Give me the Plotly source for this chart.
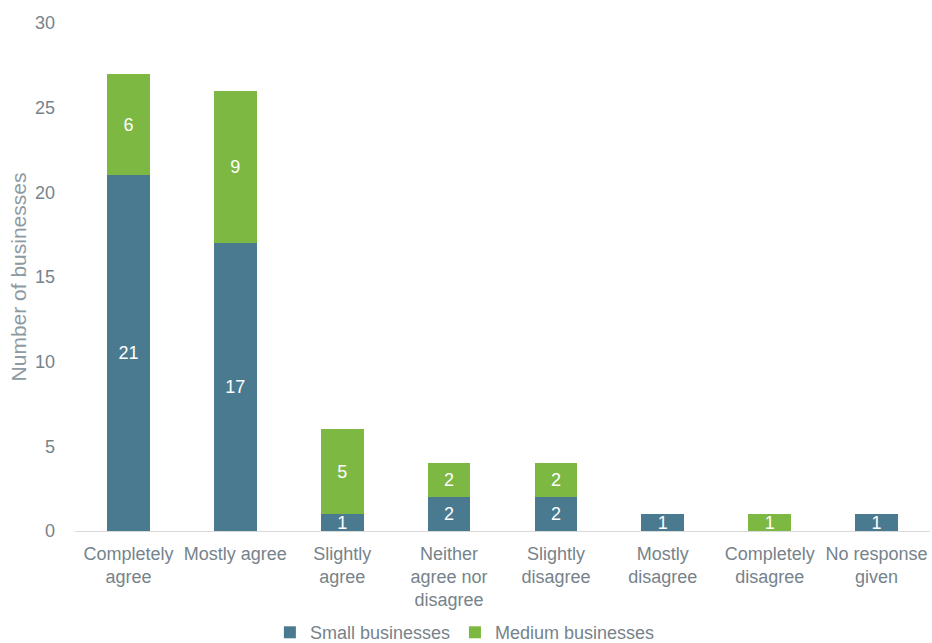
import plotly.graph_objects as go

categories = [
    "Completely<br>agree",
    "Mostly agree",
    "Slightly<br>agree",
    "Neither<br>agree nor<br>disagree",
    "Slightly<br>disagree",
    "Mostly<br>disagree",
    "Completely<br>disagree",
    "No response<br>given",
]
small_businesses = [21, 17, 1, 2, 2, 1, 0, 1]
medium_businesses = [6, 9, 5, 2, 2, 0, 1, 0]

SMALL_COLOR = "#4a7a8f"
MEDIUM_COLOR = "#7db843"
TEXT_COLOR = "#76838b"
TITLE_COLOR = "#8e9aa1"
FONT = "Liberation Sans, Arial, sans-serif"


def labels(values):
    return [str(v) if v else "" for v in values]


fig = go.Figure()
for name, values, color in [
    ("Small businesses", small_businesses, SMALL_COLOR),
    ("Medium businesses", medium_businesses, MEDIUM_COLOR),
]:
    fig.add_trace(go.Bar(
        name=name,
        x=categories,
        y=values,
        marker=dict(color=color, line=dict(width=0)),
        text=labels(values),
        textposition="inside",
        insidetextanchor="middle",
        textangle=0,
        constraintext="none",
        textfont=dict(color="white", size=18, family=FONT),
        hoverinfo="skip",
    ))

fig.update_layout(
    barmode="stack",
    bargap=0.6,
    width=932,
    height=643,
    margin=dict(l=75, r=2, t=23, b=112, autoexpand=False),
    paper_bgcolor="white",
    plot_bgcolor="white",
    font=dict(family=FONT, size=18, color=TEXT_COLOR),
    showlegend=True,
    legend=dict(
        orientation="h",
        x=0.456,
        xanchor="center",
        y=-0.2,
        yanchor="middle",
        font=dict(size=18, color=TEXT_COLOR),
        itemwidth=30,
        traceorder="normal",
    ),
    xaxis=dict(
        automargin=False,
        showline=True,
        linecolor="#d9d9d9",
        linewidth=1,
        ticks="",
        ticklabelstandoff=6,
        tickfont=dict(size=18, color=TEXT_COLOR),
        showgrid=False,
    ),
    yaxis=dict(
        automargin=False,
        range=[0, 30],
        dtick=5,
        showgrid=False,
        zeroline=False,
        showline=False,
        ticks="",
        ticklabelstandoff=19,
        tickfont=dict(size=18, color=TEXT_COLOR),
        title=dict(text="Number of businesses", font=dict(size=21, color=TITLE_COLOR), standoff=2),
    ),
)

fig.write_html("out.html")
